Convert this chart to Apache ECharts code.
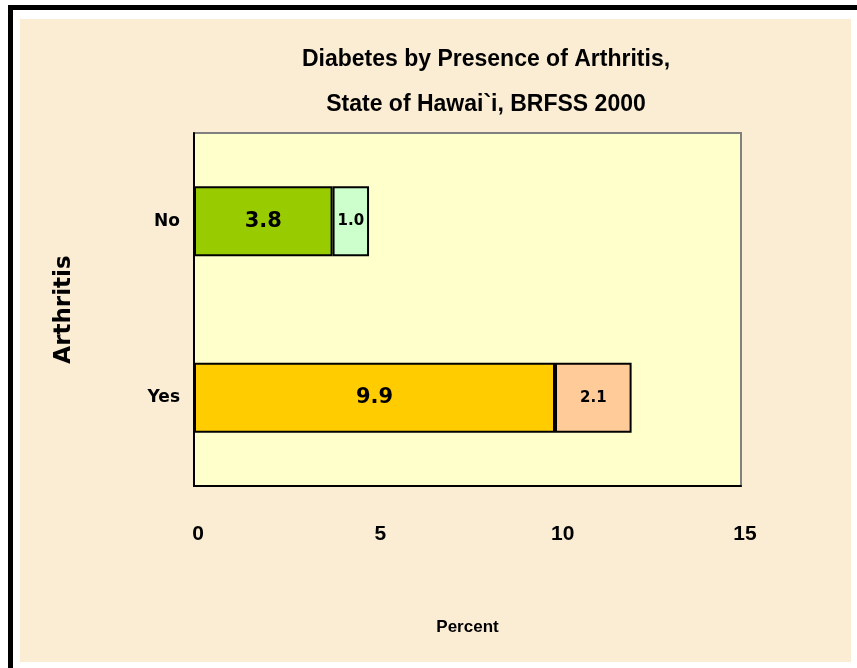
<!DOCTYPE html>
<html lang="en">
<head>
    <meta charset="UTF-8">
    <title>Diabetes by Presence of Arthritis</title>
    <script src="https://cdn.jsdelivr.net/npm/echarts@6/dist/echarts.min.js"></script>
    <style>
        html, body { margin: 0; padding: 0; background: #ffffff; }
        #main { width: 857px; height: 668px; }
    </style>
</head>
<body>
<div id="main"></div>
<script type="text/javascript">
    // data
    var categories = ['No', 'Yes'];
    var diabetesFirst = [3.8, 9.9];
    var diabetesSecond = [1.0, 2.1];
    var firstColors = ['#99CC00', '#FFCC00'];
    var secondColors = ['#CCFFCC', '#FFCC99'];

    var narrow = "'Liberation Sans Narrow', 'Liberation Sans', Arial, sans-serif";
    var wide = "'DejaVu Sans', Verdana, sans-serif";

    var myChart = echarts.init(document.getElementById('main'));

    function items(values, colors) {
        var out = [];
        for (var i = 0; i < values.length; i++) {
            out.push({value: values[i], itemStyle: {color: colors[i]}});
        }
        return out;
    }

    myChart.setOption({
        backgroundColor: '#ffffff',
        animation: false,
        graphic: [
            // parchment panel
            {type: 'rect', z: -10, silent: true, shape: {x: 20, y: 19, width: 831, height: 643}, style: {fill: '#FBEDD4'}},
            // black frame lines (left and top)
            {type: 'rect', z: -10, silent: true, shape: {x: 8, y: 5, width: 5, height: 663}, style: {fill: '#000'}},
            {type: 'rect', z: -10, silent: true, shape: {x: 8, y: 5, width: 849, height: 5}, style: {fill: '#000'}}
        ],
        title: {
            text: 'Diabetes by Presence of Arthritis,\nState of Hawai`i, BRFSS 2000',
            left: 481,
            top: 32,
            textAlign: 'center',
            textStyle: {
                fontFamily: narrow,
                fontWeight: 'bold',
                fontSize: 23,
                lineHeight: 45,
                color: '#000'
            }
        },
        grid: {
            left: 194,
            top: 133,
            right: 116,
            bottom: 182,
            show: true,
            backgroundColor: '#FFFFCC',
            borderColor: '#808080',
            borderWidth: 2
        },
        xAxis: {
            type: 'value',
            min: 0,
            max: 15,
            interval: 5,
            name: 'Percent',
            nameLocation: 'middle',
            nameGap: 133,
            nameTextStyle: {fontFamily: narrow, fontWeight: 'bold', fontSize: 17, color: '#000'},
            axisLine: {show: true, lineStyle: {color: '#000', width: 2}},
            axisTick: {show: false},
            splitLine: {show: false},
            axisLabel: {margin: 38, fontFamily: narrow, fontWeight: 'bold', fontSize: 21, color: '#000',
                padding: [0, 0, 0, 8]}
        },
        yAxis: {
            type: 'category',
            inverse: true,
            data: categories,
            name: 'Arthritis',
            nameLocation: 'middle',
            nameGap: 118,
            nameRotate: 90,
            nameTextStyle: {fontFamily: wide, fontWeight: 'bold', fontSize: 23, color: '#000'},
            axisLine: {show: true, lineStyle: {color: '#000', width: 2}},
            axisTick: {show: false},
            axisLabel: {margin: 14, fontFamily: wide, fontWeight: 'bold', fontSize: 17, color: '#000'}
        },
        series: [
            {
                name: 'first',
                type: 'bar',
                stack: 'total',
                barWidth: 70,
                data: items(diabetesFirst, firstColors),
                itemStyle: {borderColor: '#000', borderWidth: 2},
                label: {
                    show: true,
                    position: 'inside',
                    fontFamily: wide,
                    fontWeight: 'bold',
                    fontSize: 21,
                    color: '#000',
                    formatter: function (p) { return p.value.toFixed(1); }
                }
            },
            {
                name: 'second',
                type: 'bar',
                stack: 'total',
                barWidth: 70,
                data: items(diabetesSecond, secondColors),
                itemStyle: {borderColor: '#000', borderWidth: 2},
                label: {
                    show: true,
                    position: 'inside',
                    fontFamily: wide,
                    fontWeight: 'bold',
                    fontSize: 15,
                    color: '#000',
                    formatter: function (p) { return p.value.toFixed(1); }
                }
            }
        ]
    });
</script>
</body>
</html>
